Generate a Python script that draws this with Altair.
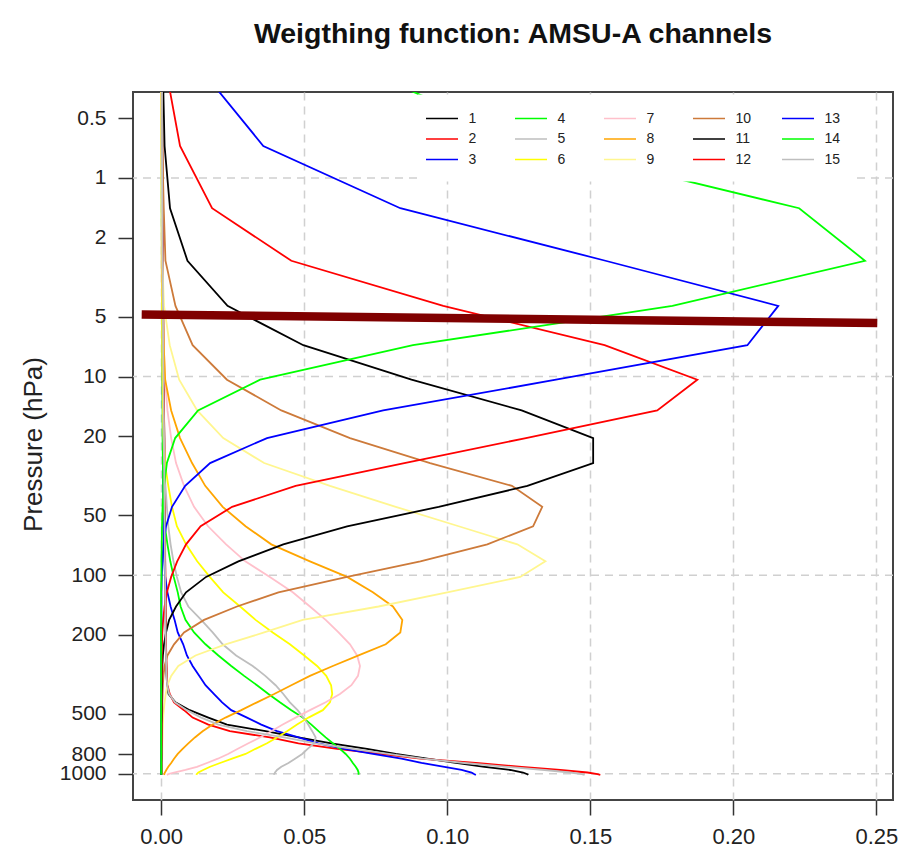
import altair as alt
import pandas as pd

# pressure levels (hPa)
levels = [0.10, 0.29, 0.69, 1.42, 2.611, 4.407, 6.95, 10.37, 14.81, 20.40, 27.26, 35.51, 45.29,
          56.73, 69.97, 85.18, 102.05, 122.04, 143.84, 167.95, 194.36, 222.94, 253.71, 286.60,
          321.50, 358.28, 396.81, 436.95, 478.54, 521.46, 565.54, 610.60, 656.43, 702.73,
          749.12, 795.09, 839.95, 882.80, 922.46, 957.44, 985.88, 1005.43, 1013.25]

ch1 = [0.0002, 0.0003, 0.0004, 0.0005, 0.0006, 0.0007, 0.0008, 0.0009, 0.0010, 0.0011,
       0.0011, 0.0012, 0.0012, 0.0013, 0.0013, 0.0014, 0.0014, 0.0015, 0.0015, 0.0016,
       0.0016, 0.0017, 0.0017, 0.0018, 0.0019, 0.0021, 0.0026, 0.0050, 0.0100, 0.0165,
       0.0230, 0.0365, 0.0480, 0.0595, 0.0720, 0.0820, 0.0930, 0.1030, 0.1130, 0.1220,
       0.1265, 0.1280, 0.1283]
ch2 = [0.0002, 0.0003, 0.0004, 0.0005, 0.0006, 0.0007, 0.0008, 0.0009, 0.0010, 0.0011,
       0.0012, 0.0012, 0.0013, 0.0013, 0.0014, 0.0014, 0.0015, 0.0015, 0.0016, 0.0016,
       0.0017, 0.0017, 0.0018, 0.0019, 0.0020, 0.0022, 0.0030, 0.0045, 0.0080, 0.0110,
       0.0165, 0.0240, 0.0380, 0.0480, 0.0615, 0.0766, 0.0906, 0.1100, 0.1260, 0.1395,
       0.1490, 0.1525, 0.1535]
ch3 = [0.0002, 0.0002, 0.0003, 0.0003, 0.0004, 0.0004, 0.0005, 0.0005, 0.0006, 0.0006,
       0.0007, 0.0007, 0.0008, 0.0008, 0.0009, 0.0011, 0.0014, 0.0022, 0.0033, 0.0047,
       0.0058, 0.0077, 0.0090, 0.0110, 0.0133, 0.0155, 0.0185, 0.0213, 0.0245, 0.0300,
       0.0350, 0.0405, 0.0480, 0.0550, 0.0640, 0.0740, 0.0840, 0.0910, 0.0990, 0.1050,
       0.1085, 0.1095, 0.1100]
ch4 = [0.0001, 0.0001, 0.0002, 0.0002, 0.0003, 0.0003, 0.0004, 0.0004, 0.0005, 0.0005,
       0.0006, 0.0007, 0.0009, 0.0013, 0.0022, 0.0032, 0.0044, 0.0058, 0.0068, 0.0085,
       0.0115, 0.0155, 0.0200, 0.0245, 0.0290, 0.0335, 0.0375, 0.0415, 0.0455, 0.0495,
       0.0525, 0.0550, 0.0575, 0.0600, 0.0625, 0.0645, 0.0660, 0.0670, 0.0680, 0.0687,
       0.0690, 0.0690, 0.0690]
ch5 = [0.0001, 0.0001, 0.0001, 0.0002, 0.0002, 0.0003, 0.0004, 0.0005, 0.0006, 0.0008,
       0.0011, 0.0015, 0.0020, 0.0025, 0.0033, 0.0043, 0.0055, 0.0070, 0.0095, 0.0140,
       0.0180, 0.0215, 0.0262, 0.0320, 0.0364, 0.0400, 0.0427, 0.0450, 0.0477, 0.0497,
       0.0514, 0.0528, 0.0540, 0.0535, 0.0512, 0.0493, 0.0468, 0.0445, 0.0420, 0.0405,
       0.0398, 0.0395, 0.0395]
ch6 = [0.0001, 0.0001, 0.0001, 0.0002, 0.0002, 0.0003, 0.0004, 0.0005, 0.0007, 0.0009,
       0.0013, 0.0025, 0.0038, 0.0055, 0.0087, 0.0126, 0.0170, 0.0217, 0.0276, 0.0330,
       0.0390, 0.0450, 0.0500, 0.0545, 0.0577, 0.0594, 0.0598, 0.0590, 0.0565, 0.0515,
       0.0475, 0.0440, 0.0405, 0.0370, 0.0330, 0.0295, 0.0248, 0.0206, 0.0171, 0.0147,
       0.0130, 0.0124, 0.0123]
ch7 = [0.0001, 0.0001, 0.0002, 0.0003, 0.0004, 0.0006, 0.0009, 0.0014, 0.0022, 0.0035,
       0.0052, 0.0080, 0.0115, 0.0164, 0.0227, 0.0294, 0.0380, 0.0460, 0.0520, 0.0575,
       0.0620, 0.0660, 0.0685, 0.0695, 0.0688, 0.0665, 0.0625, 0.0575, 0.0520, 0.0470,
       0.0425, 0.0385, 0.0345, 0.0305, 0.0268, 0.0234, 0.0198, 0.0160, 0.0125, 0.0085,
       0.0045, 0.0025, 0.0020]
ch8 = [0.0001, 0.0001, 0.0002, 0.0003, 0.0004, 0.0006, 0.0009, 0.0014, 0.0035, 0.0066,
       0.0108, 0.0154, 0.0215, 0.0295, 0.0385, 0.0520, 0.0650, 0.0740, 0.0810, 0.0843,
       0.0836, 0.0785, 0.0690, 0.0600, 0.0520, 0.0455, 0.0395, 0.0335, 0.0280, 0.0225,
       0.0180, 0.0145, 0.0118, 0.0095, 0.0075, 0.0058, 0.0045, 0.0035, 0.0025, 0.0018,
       0.0013, 0.0011, 0.0010]
ch9 = [0.0000, 0.0001, 0.0001, 0.0002, 0.0004, 0.0010, 0.0030, 0.0063, 0.0126, 0.0217,
       0.0360, 0.0590, 0.0820, 0.1040, 0.1245, 0.1343, 0.1255, 0.1000, 0.0760, 0.0495,
       0.0360, 0.0225, 0.0120, 0.0060, 0.0035, 0.0022, 0.0016, 0.0012, 0.0009, 0.0007,
       0.0006, 0.0005, 0.0005, 0.0004, 0.0004, 0.0004, 0.0003, 0.0003, 0.0003, 0.0003,
       0.0003, 0.0003, 0.0003]
ch10 = [0.0001, 0.0002, 0.0004, 0.0009, 0.0015, 0.0050, 0.0110, 0.0230, 0.0420, 0.0660,
        0.0940, 0.1226, 0.1332, 0.1300, 0.1140, 0.0906, 0.0650, 0.0410, 0.0265, 0.0150,
        0.0080, 0.0045, 0.0022, 0.0012, 0.0008, 0.0006, 0.0005, 0.0004, 0.0004, 0.0003,
        0.0003, 0.0003, 0.0002, 0.0002, 0.0002, 0.0002, 0.0002, 0.0001, 0.0001, 0.0001,
        0.0001, 0.0001, 0.0001]
ch11 = [0.0002, 0.0006, 0.0012, 0.0031, 0.0092, 0.0232, 0.0497, 0.0875, 0.1260, 0.1510,
        0.1510, 0.1280, 0.0970, 0.0650, 0.0427, 0.0270, 0.0157, 0.0087, 0.0052, 0.0028,
        0.0017, 0.0010, 0.0006, 0.0004, 0.0003, 0.0003, 0.0002, 0.0002, 0.0002, 0.0002,
        0.0001, 0.0001, 0.0001, 0.0001, 0.0001, 0.0001, 0.0001, 0.0001, 0.0001, 0.0001,
        0.0001, 0.0001, 0.0001]
ch12 = [0.0006, 0.0018, 0.0066, 0.0178, 0.0455, 0.0986, 0.1550, 0.1874, 0.1734, 0.1275,
        0.0850, 0.0470, 0.0248, 0.0138, 0.0087, 0.0056, 0.0035, 0.0020, 0.0012, 0.0007,
        0.0004, 0.0003, 0.0002, 0.0002, 0.0002, 0.0001, 0.0001, 0.0001, 0.0001, 0.0001,
        0.0001, 0.0001, 0.0001, 0.0001, 0.0000, 0.0000, 0.0000, 0.0000, 0.0000, 0.0000,
        0.0000, 0.0000, 0.0000]
ch13 = [0.0040, 0.0144, 0.0357, 0.0836, 0.1553, 0.2157, 0.2049, 0.1380, 0.0776, 0.0370,
        0.0171, 0.0084, 0.0038, 0.0017, 0.0008, 0.0004, 0.0002, 0.0001, 0.0001, 0.0001,
        0.0000, 0.0000, 0.0000, 0.0000, 0.0000, 0.0000, 0.0000, 0.0000, 0.0000, 0.0000,
        0.0000, 0.0000, 0.0000, 0.0000, 0.0000, 0.0000, 0.0000, 0.0000, 0.0000, 0.0000,
        0.0000, 0.0000, 0.0000]
ch14 = [0.0300, 0.0710, 0.1330, 0.2230, 0.2460, 0.1787, 0.0880, 0.0346, 0.0129, 0.0049,
        0.0020, 0.0010, 0.0005, 0.0003, 0.0002, 0.0001, 0.0001, 0.0000, 0.0000, 0.0000,
        0.0000, 0.0000, 0.0000, 0.0000, 0.0000, 0.0000, 0.0000, 0.0000, 0.0000, 0.0000,
        0.0000, 0.0000, 0.0000, 0.0000, 0.0000, 0.0000, 0.0000, 0.0000, 0.0000, 0.0000,
        0.0000, 0.0000, 0.0000]
ch15 = [0.0002, 0.0003, 0.0003, 0.0004, 0.0005, 0.0006, 0.0007, 0.0008, 0.0009, 0.0010,
        0.0011, 0.0011, 0.0012, 0.0012, 0.0013, 0.0013, 0.0014, 0.0014, 0.0015, 0.0015,
        0.0016, 0.0016, 0.0017, 0.0018, 0.0019, 0.0021, 0.0028, 0.0048, 0.0090, 0.0140,
        0.0200, 0.0300, 0.0430, 0.0540, 0.0670, 0.0795, 0.0915, 0.1060, 0.1210, 0.1340,
        0.1430, 0.1470, 0.1480]

channels = [ch1, ch2, ch3, ch4, ch5, ch6, ch7, ch8, ch9, ch10, ch11, ch12, ch13, ch14, ch15]
channel_names = [str(i) for i in range(1, 16)]
channel_colors = ["#000000", "#ff0000", "#0000ff", "#00ff00", "#bebebe", "#ffff00", "#ffc0cb",
                  "#ffa500", "#fff68f", "#cd7a3a", "#000000", "#ff0000", "#0000ff", "#00ff00",
                  "#bebebe"]

x_ticks = [0.0, 0.05, 0.10, 0.15, 0.20, 0.25]
y_ticks = [0.5, 1, 2, 5, 10, 20, 50, 100, 200, 500, 800, 1000]
grid_p = [1, 10, 100, 1000]

# thick marker line near 5 hPa
mark_x = [-0.0068, 0.2503]
mark_p = [4.87, 5.38]

rows = []
for name, vals in zip(channel_names, channels):
    for p, v in zip(levels, vals):
        rows.append({"channel": name, "p": p, "w": v})
df = pd.DataFrame(rows)

df_grid = pd.DataFrame({"p": grid_p})
df_mark = pd.DataFrame({"w": mark_x, "p": mark_p})

FONT = "Liberation Sans"
xs = alt.Scale(domain=[-0.00984, 0.2558], nice=False, zero=False)
ys = alt.Scale(type="log", domain=[0.369, 1356], nice=False, reverse=True)

x_axis = alt.Axis(values=x_ticks, format=".2f", grid=True, gridDash=[8, 6], gridColor="#d0d0d0",
                  gridWidth=1.5, tickSize=15, tickColor="#333333", tickWidth=1.5, domain=False,
                  labelFontSize=22, labelColor="#222222", labelPadding=11, labelFlush=False,
                  labelOverlap=False, labelFont=FONT, title="")
y_axis = alt.Axis(values=y_ticks, format="~g", grid=False, tickSize=15, tickColor="#333333",
                  tickWidth=1.5, domain=False, labelFontSize=21, labelColor="#222222",
                  labelPadding=12, labelOverlap=False, labelFlush=False, labelFont=FONT,
                  title="Pressure (hPa)", titleFontSize=26, titleFontWeight="normal",
                  titleColor="#222222", titleFont=FONT, titleX=-87, titleY=352,
                  titleAngle=270, titleAlign="center", titleBaseline="bottom")

grid = alt.Chart(df_grid).mark_rule(strokeDash=[8, 6], color="#d0d0d0", strokeWidth=1.5).encode(
    y=alt.Y("p:Q", scale=ys, axis=y_axis)
)

curves = alt.Chart(df).mark_line(clip=True, strokeWidth=1.8).encode(
    x=alt.X("w:Q", scale=xs, axis=x_axis),
    y=alt.Y("p:Q", scale=ys, axis=y_axis),
    color=alt.Color("channel:N", scale=alt.Scale(domain=channel_names, range=channel_colors),
                    title=None,
                    legend=alt.Legend(orient="none", legendX=285, legendY=2.5, columns=5,
                                      symbolType="M-2,0H2", symbolSize=256, symbolStrokeWidth=1.5,
                                      labelFontSize=14, labelFont=FONT, labelColor="#222222",
                                      labelOffset=17.5, columnPadding=27, rowPadding=4.5,
                                      gridAlign="all", padding=15, fillColor="white")),
    order=alt.Order("p:Q"),
)

marker = alt.Chart(df_mark).mark_line(clip=True, color="#800000", strokeWidth=8.5,
                                      strokeCap="butt").encode(
    x=alt.X("w:Q", scale=xs, axis=x_axis),
    y=alt.Y("p:Q", scale=ys, axis=y_axis),
    order=alt.Order("p:Q"),
)

chart = alt.layer(grid, curves, marker).properties(
    width=760, height=708,
    autosize=alt.AutoSizeParams(type="none"),
    padding={"left": 125, "top": 84, "right": 9, "bottom": 50},
    background="white",
    title=alt.TitleParams("Weigthing function: AMSU-A channels", fontSize=28.5, fontWeight="bold",
                          anchor="middle", offset=44, font=FONT, color="#111111"),
).configure_view(stroke="#444444", strokeWidth=2)

chart.save("out.html", embed_options={"renderer": "svg", "actions": False})
